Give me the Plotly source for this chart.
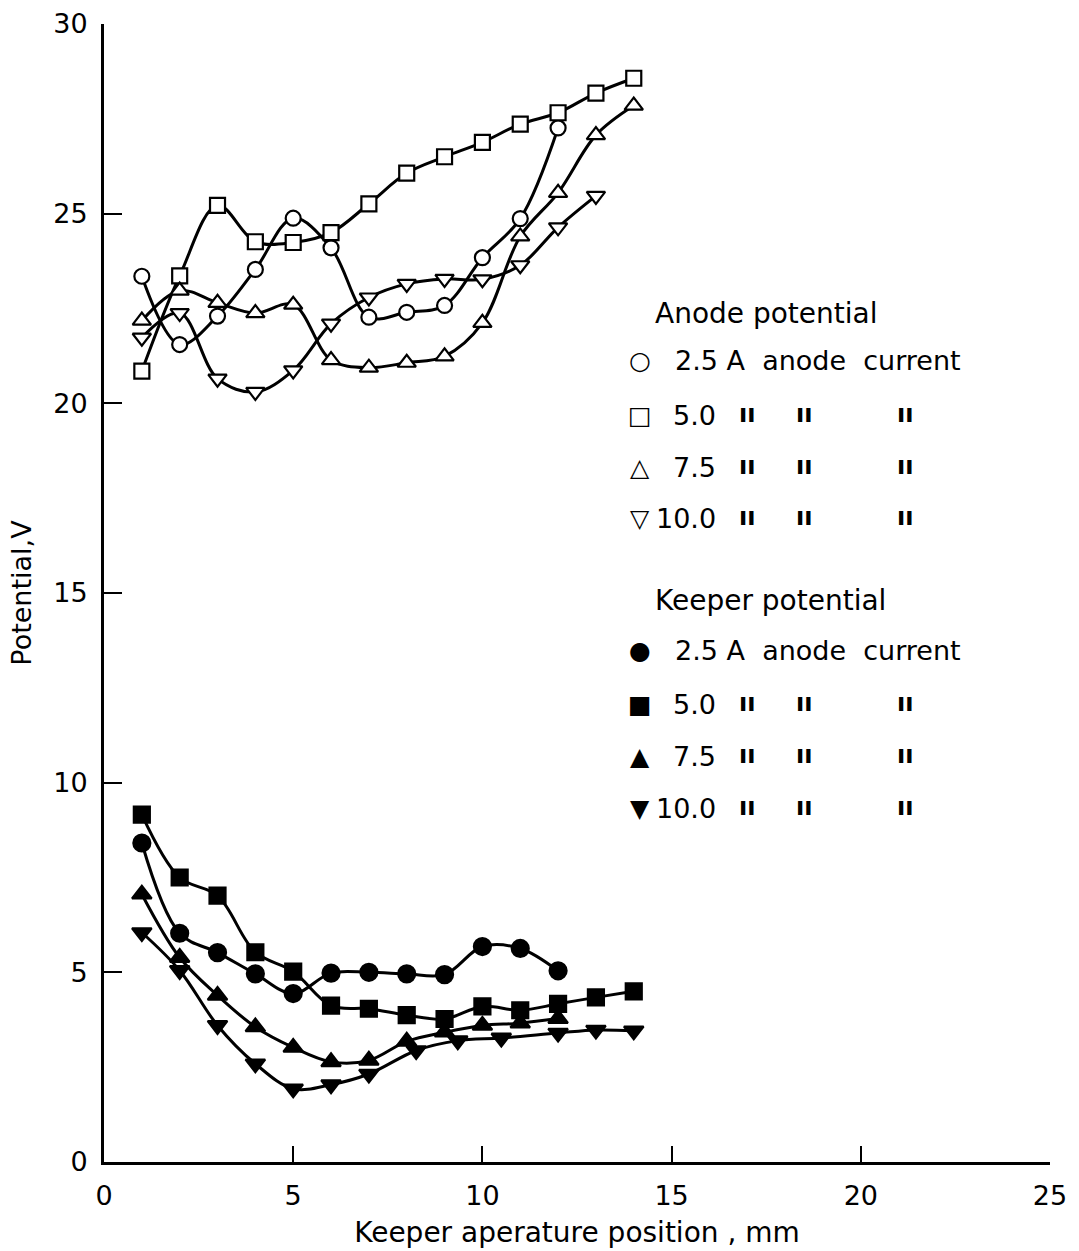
import plotly.graph_objects as go

# ---------------- data ----------------
# Anode potential (open symbols)
anode_x_25 = [1, 2, 3, 4, 5, 6, 7, 8, 9, 10, 11, 12]
anode_y_25 = [23.35, 21.55, 22.3, 23.53, 24.88, 24.1, 22.27, 22.4, 22.58, 23.84, 24.87, 27.26]

anode_x_50 = [1, 2, 3, 4, 5, 6, 7, 8, 9, 10, 11, 12, 13, 14]
anode_y_50 = [20.85, 23.36, 25.22, 24.26, 24.24, 24.5, 25.26, 26.07, 26.5, 26.88, 27.36, 27.66, 28.18, 28.57]

anode_x_75 = [1, 2, 3, 4, 5, 6, 7, 8, 9, 10, 11, 12, 13, 14]
anode_y_75 = [22.18, 22.97, 22.65, 22.38, 22.6, 21.14, 20.94, 21.07, 21.24, 22.12, 24.4, 25.55, 27.07, 27.85]

anode_x_100 = [1, 2, 3, 4, 5, 6, 7, 8, 9, 10, 11, 12, 13]
anode_y_100 = [21.73, 22.38, 20.65, 20.3, 20.87, 22.1, 22.79, 23.15, 23.28, 23.27, 23.64, 24.64, 25.47]

# Keeper potential (filled symbols)
keeper_x_25 = [1, 2, 3, 4, 5, 6, 7, 8, 9, 10, 11, 12]
keeper_y_25 = [8.41, 6.03, 5.52, 4.96, 4.44, 4.98, 5.0, 4.96, 4.94, 5.68, 5.63, 5.04]

keeper_x_50 = [1, 2, 3, 4, 5, 6, 7, 8, 9, 10, 11, 12, 13, 14]
keeper_y_50 = [9.16, 7.5, 7.02, 5.53, 5.02, 4.12, 4.04, 3.87, 3.77, 4.1, 4.0, 4.17, 4.34, 4.5]

keeper_x_75 = [1, 2, 3, 4, 5, 6, 7, 8, 9, 10, 11, 12]
keeper_y_75 = [7.06, 5.39, 4.39, 3.56, 3.02, 2.64, 2.68, 3.18, 3.42, 3.6, 3.66, 3.78]

keeper_x_100 = [1, 2, 3, 4, 5, 6, 7, 8.25, 9.35, 10.5, 12, 13, 14]
keeper_y_100 = [6.05, 5.05, 3.6, 2.59, 1.93, 2.04, 2.32, 2.94, 3.2, 3.27, 3.4, 3.48, 3.46]

x_ticks = [0, 5, 10, 15, 20, 25]
y_ticks = [0, 5, 10, 15, 20, 25, 30]

current_labels = ["2.5", "5.0", "7.5", "10.0"]
anode_glyphs = ["\u25CB", "\u25A1", "\u25B3", "\u25BD"]
keeper_glyphs = ["\u25CF", "\u25A0", "\u25B2", "\u25BC"]

series = [
    (anode_x_25, anode_y_25, "circle", "white", 15),
    (anode_x_50, anode_y_50, "square", "white", 15),
    (anode_x_75, anode_y_75, "triangle-up", "white", 16),
    (anode_x_100, anode_y_100, "triangle-down", "white", 16),
    (keeper_x_25, keeper_y_25, "circle", "black", 17),
    (keeper_x_50, keeper_y_50, "square", "black", 16),
    (keeper_x_75, keeper_y_75, "triangle-up", "black", 17),
    (keeper_x_100, keeper_y_100, "triangle-down", "black", 17),
]

fig = go.Figure()

# smooth curves first
for xs, ys, sym, fill, sz in series:
    fig.add_trace(go.Scatter(
        x=xs, y=ys, mode="lines",
        line=dict(color="black", width=3, shape="spline", smoothing=1.0),
        showlegend=False, hoverinfo="skip",
    ))
# markers on top
for xs, ys, sym, fill, sz in series:
    fig.add_trace(go.Scatter(
        x=xs, y=ys, mode="markers",
        marker=dict(symbol=sym, size=sz, color=fill,
                    line=dict(color="black", width=2.2)),
        showlegend=False,
    ))

# ---------------- legend as text ----------------
L, R, T, B = 104, 1050, 24, 1162
def px(x):
    return (x - L) / (R - L)
def py(y):
    return (B - y) / (B - T)

FONT = "DejaVu Sans"
ann = []
def text(x, y, s, size=27, anchor="left", weight="normal"):
    ann.append(dict(x=px(x), y=py(y), xref="paper", yref="paper", text=s,
                    showarrow=False, xanchor=anchor, yanchor="middle",
                    font=dict(family=FONT, size=size, color="black", weight=weight)))

groups = [("Anode potential", 313, [360, 415, 467, 518], anode_glyphs),
          ("Keeper potential", 600, [650, 704, 756, 808], keeper_glyphs)]
for title, ty, rows, glyphs in groups:
    text(653, ty, title, size=28)
    for i, (ry, g) in enumerate(zip(rows, glyphs)):
        text(640, ry, g, size=25, anchor="center")
        if i == 0:
            text(673, ry, current_labels[i] + " A  anode  current", size=27)
        else:
            text(718, ry, current_labels[i], size=27, anchor="right")
            for dx in (747, 804, 905):
                text(dx, ry - 1, "ıı", size=24, anchor="center", weight="bold")

fig.update_layout(
    width=1079, height=1251,
    margin=dict(l=L, r=1079 - R, t=T, b=1251 - B, autoexpand=False),
    paper_bgcolor="white", plot_bgcolor="white",
    annotations=ann,
    showlegend=False,
    xaxis=dict(
        range=[0, 25], tickvals=x_ticks, ticks="inside", ticklen=16, tickwidth=2,
        tickcolor="black", showline=True, linecolor="black", linewidth=3,
        showgrid=False, zeroline=False, ticklabelstandoff=8, automargin=False,
        tickfont=dict(family=FONT, size=27, color="black"),
        title=dict(text="Keeper aperature position , mm", standoff=12,
                   font=dict(family=FONT, size=28, color="black")),
    ),
    yaxis=dict(
        range=[0, 30], tickvals=y_ticks, ticks="inside", ticklen=18, tickwidth=2,
        tickcolor="black", showline=True, linecolor="black", linewidth=3,
        showgrid=False, zeroline=False, ticklabelstandoff=8, automargin=False,
        tickfont=dict(family=FONT, size=27, color="black"),
        title=dict(text="Potential,V", standoff=14,
                   font=dict(family=FONT, size=27, color="black")),
    ),
)

fig.write_html("out.html")
